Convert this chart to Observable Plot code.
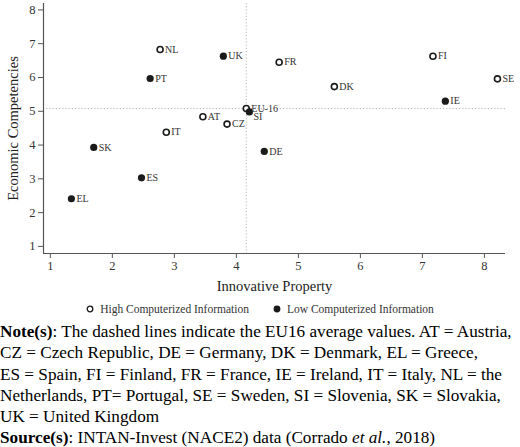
<!DOCTYPE html>
<html>
<head>
<meta charset="utf-8">
<script src="https://cdn.jsdelivr.net/npm/d3@7"></script>
<script src="https://cdn.jsdelivr.net/npm/@observablehq/plot@0.6"></script>
<style>
  html, body { margin: 0; padding: 0; background: #fff; }
  body { width: 520px; overflow: hidden; font-family: "Liberation Serif", "Times New Roman", serif; }
  #legend { height: 24px; display: flex; justify-content: center; align-items: center; gap: 24px; font-size: 11.5px; color: #333; margin-top: 0px; }
  #legend span.item { display: flex; align-items: center; gap: 6px; }
  #note { font-size: 17.2px; line-height: 21.3px; color: #000; white-space: nowrap; margin-top: 0px; }
</style>
</head>
<body>
<div id="chart"></div>
<div id="legend"></div>
<div id="note"></div>
<script>
const countries = ["NL","UK","PT","EU-16","SI","AT","CZ","IT","SK","ES","EL","FR","DK","FI","SE","IE","DE"];
const innovativeProperty = [2.77,3.79,2.61,4.16,4.21,3.46,3.85,2.87,1.70,2.47,1.34,4.69,5.58,7.17,8.21,7.37,4.45];
const economicCompetencies = [6.83,6.63,5.97,5.08,4.98,4.84,4.62,4.38,3.93,3.03,2.41,6.45,5.73,6.63,5.96,5.30,3.81];
const computerized = ["High","Low","Low","High","Low","High","High","High","Low","Low","Low","High","High","High","High","Low","Low"];
const groupLabels = ["High Computerized Information","Low Computerized Information"];
const eu16Average = {x: 4.16, y: 5.08};
const xTicks = [1,2,3,4,5,6,7,8];
const yTicks = [1,2,3,4,5,6,7,8];
const xDomain = [0.89, 8.34];
const yDomain = [0.79, 8.19];

const data = countries.map((c, i) => ({
  country: c, ip: innovativeProperty[i], ec: economicCompetencies[i], group: computerized[i]
}));
const high = data.filter(d => d.group === "High");
const low = data.filter(d => d.group === "Low");

const axisColor = "#555";
const font = "'Liberation Serif', 'Times New Roman', serif";

const chart = Plot.plot({
  width: 520,
  height: 297,
  marginTop: 3,
  marginBottom: 44,
  marginLeft: 43,
  marginRight: 15,
  style: {fontFamily: font, background: "white", color: "#333"},
  x: {domain: xDomain},
  y: {domain: yDomain},
  marks: [
    Plot.ruleX([eu16Average.x], {stroke: "#b5b5b5", strokeDasharray: "1.2,2", strokeWidth: 1}),
    Plot.ruleY([eu16Average.y], {stroke: "#b5b5b5", strokeDasharray: "1.2,2", strokeWidth: 1}),
    Plot.ruleY([yDomain[0]], {stroke: axisColor, strokeWidth: 1.2}),
    Plot.ruleX([xDomain[0]], {stroke: axisColor, strokeWidth: 1.2}),
    Plot.axisX({ticks: xTicks, tickSize: 5, tickPadding: 3, fontSize: 12.5, stroke: axisColor, label: null, tickFormat: d => d}),
    Plot.axisY({ticks: yTicks, tickSize: 5, tickPadding: 3, fontSize: 12.5, stroke: axisColor, label: null, tickFormat: d => d}),
    Plot.text(["Innovative Property"], {frameAnchor: "bottom", dy: 37, fontSize: 14.5, fill: "#222"}),
    Plot.text(["Economic Competencies"], {frameAnchor: "left", dx: -30, rotate: -90, textAnchor: "middle", fontSize: 14.5, fill: "#222"}),
    Plot.dot(high, {x: "ip", y: "ec", r: 3, stroke: "#1a1a1a", strokeWidth: 1.6, fill: "white"}),
    Plot.dot(low, {x: "ip", y: "ec", r: 3.6, fill: "#1a1a1a", stroke: "none"}),
    Plot.text(data.filter(d => d.country !== "SI"), {x: "ip", y: "ec", text: "country", dx: 5, textAnchor: "start", fontSize: 10, fill: "#333"}),
    Plot.text(data.filter(d => d.country === "SI"), {x: "ip", y: "ec", text: "country", dx: 4, dy: 5, textAnchor: "start", fontSize: 10, fill: "#333"})
  ]
});
document.getElementById("chart").appendChild(chart);

const legend = document.getElementById("legend");
legend.innerHTML = `
  <span class="item"><svg width="8" height="8"><circle cx="4" cy="4" r="2.8" fill="white" stroke="#1a1a1a" stroke-width="1.3"/></svg>${groupLabels[0]}</span>
  <span class="item"><svg width="8" height="8"><circle cx="4" cy="4" r="3.4" fill="#1a1a1a"/></svg>${groupLabels[1]}</span>`;

document.getElementById("note").innerHTML =
  `<b>Note(s)</b>: The dashed lines indicate the EU16 average values. AT = Austria,<br>` +
  `CZ = Czech Republic, DE = Germany, DK = Denmark, EL = Greece,<br>` +
  `ES = Spain, FI = Finland, FR = France, IE = Ireland, IT = Italy, NL = the<br>` +
  `Netherlands, PT= Portugal, SE = Sweden, SI = Slovenia, SK = Slovakia,<br>` +
  `UK = United Kingdom<br>` +
  `<b>Source(s)</b>: INTAN-Invest (NACE2) data (Corrado <i>et al.</i>, 2018)`;
</script>
</body>
</html>
